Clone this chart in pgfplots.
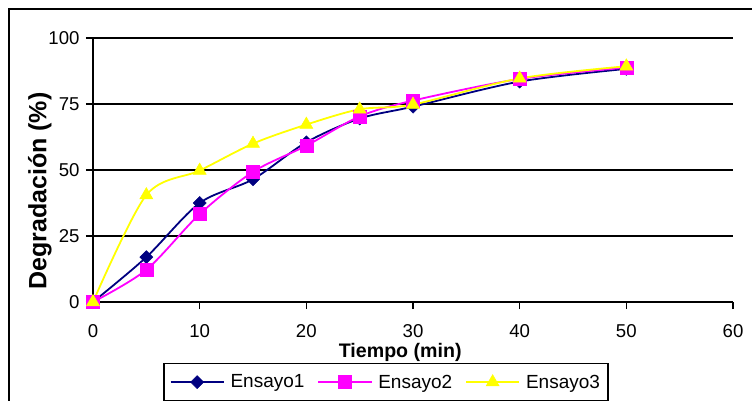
\documentclass[border=0pt]{standalone}
\usepackage{fontspec}
\setmainfont{Liberation Sans}
\usepackage{pgfplots}
\pgfplotsset{compat=1.18}
\definecolor{navyline}{RGB}{0,0,128}
\definecolor{magline}{RGB}{255,0,255}
\definecolor{yelline}{RGB}{255,255,0}

\begin{document}
\begin{tikzpicture}[x=1pt,y=1pt]
    \begin{axis}[
            at={(0,0)}, anchor=south west,
            scale only axis,
            width=640pt, height=264pt,
            xmin=0, xmax=60,
            ymin=0, ymax=100,
            xtick={0,10,...,60},
            ytick={0,25,...,100},
            axis lines*=left,
            axis line style={line width=2pt, black},
            tick align=outside,
            major tick length=7pt,
            tick style={line width=1.5pt, black},
            ymajorgrids,
            major grid style={line width=1.5pt, black},
            /pgf/number format/assume math mode=true,
            ticklabel style={font=\fontsize{18.6}{22}\selectfont},
            xticklabel style={yshift=-12pt},
            yticklabel style={xshift=-3pt},
            xlabel={\textbf{Tiempo (min)}},
            ylabel={\textbf{Degradación (\%)}},
            xlabel style={at={(axis description cs:0.48,-0.19)}, anchor=center,
                font=\fontsize{19.6}{22}\selectfont},
            ylabel style={at={(axis description cs:-0.083,0.42)}, anchor=center,
                font=\fontsize{25}{28}\selectfont},
            clip=false,
            legend columns=3,
            legend image code/.code={
                \draw[mark repeat=2, mark phase=2, #1]
                    plot coordinates {(0pt,0pt) (26.5pt,0pt) (53pt,0pt)};
            },
            legend style={
                at={(axis description cs:0.1094,-0.231)}, anchor=north west,
                draw=black, line width=1.5pt,
                font=\fontsize{19}{22}\selectfont,
                /tikz/every odd column/.append style={column sep=4pt},
                /tikz/every even column/.append style={column sep=11pt},
                inner xsep=6pt, inner ysep=9pt,
            },
        ]
        \addplot[color=navyline, line width=1.8pt, smooth,
            mark=square*, mark size=4.6pt,
            mark options={rotate=45, fill=navyline, line width=0.5pt}]
            coordinates{
(0,0)
(5,17)
(10,37.5)
(15,46.5)
(20,60.5)
(25,69.5)
(30,74)
(40,83.5)
(50,88.3)
            };
            \addlegendentry{Ensayo1}
        \addplot[color=magline, line width=1.8pt, smooth,
            mark=square*, mark size=6.5pt,
            mark options={fill=magline, line width=0.5pt}]
            coordinates{
(0,0)
(5,12.2)
(10,33.3)
(15,49.3)
(20,59.2)
(25,70.3)
(30,76.3)
(40,84.5)
(50,88.8)
            };
            \addlegendentry{Ensayo2}
        \addplot[color=yelline, line width=1.8pt, smooth,
            mark=triangle*, mark size=7.5pt,
            mark options={fill=yelline, line width=0.5pt}]
            coordinates{
(0,0)
(5,40.5)
(10,49.8)
(15,60)
(20,67.2)
(25,73)
(30,74.8)
(40,84.7)
(50,89.3)
            };
            \addlegendentry{Ensayo3}
    \end{axis}
    \draw[line width=2pt] (-84,293) rectangle (720,-160);
    \pgfresetboundingbox
    \useasboundingbox (-93,-98) rectangle (659,302);
\end{tikzpicture}
\end{document}
